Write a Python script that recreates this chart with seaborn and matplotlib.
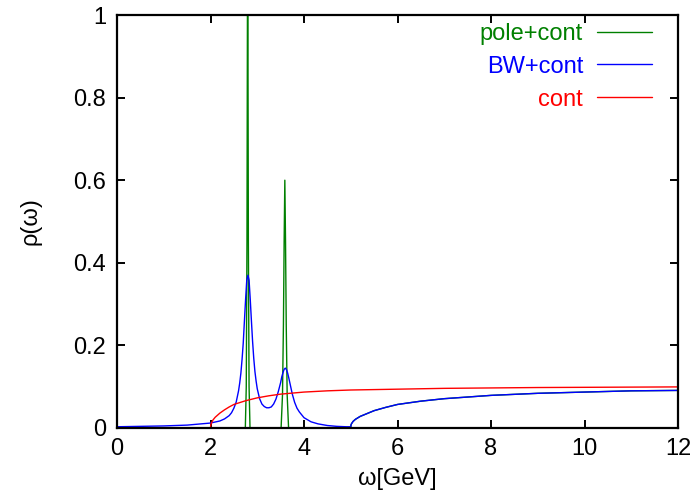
import matplotlib
matplotlib.use("Agg")
import matplotlib.pyplot as plt
import seaborn as sns
import pandas as pd

# ---- data ----
pole_x = [0.0, 2.745, 2.765, 2.78, 2.79, 2.795, 2.80, 2.81, 2.825, 2.845,
          3.51, 3.54, 3.56, 3.575, 3.59, 3.605, 3.62, 3.64, 3.67,
          5.0, 5.005, 5.01, 5.02, 5.05, 5.1, 5.2, 5.35, 5.5, 5.75, 6.0,
          6.5, 7.0, 7.5, 8.0, 9.0, 10.0, 11.0, 12.0]
pole_y = [0.0, 0.0, 0.10, 0.45, 1.0, 1.6, 1.0, 0.45, 0.10, 0.0,
          0.0, 0.08, 0.25, 0.45, 0.60, 0.45, 0.25, 0.08, 0.0,
          0.0, 0.007, 0.009, 0.011, 0.016, 0.021, 0.028, 0.035, 0.042,
          0.050, 0.057, 0.065, 0.071, 0.075, 0.079, 0.084, 0.087, 0.090,
          0.091]

bw_x = [0.0, 0.5, 1.0, 1.5, 2.0, 2.2, 2.3, 2.4, 2.45, 2.5, 2.55, 2.6,
        2.625, 2.65, 2.675, 2.7, 2.725, 2.75, 2.775, 2.8, 2.825, 2.85,
        2.875, 2.9, 2.925, 2.95, 2.975, 3.0, 3.05, 3.1, 3.15, 3.2, 3.25,
        3.3, 3.35, 3.4, 3.45, 3.5, 3.525, 3.55, 3.575, 3.6, 3.625, 3.65,
        3.675, 3.7, 3.75, 3.8, 3.85, 3.9, 4.0, 4.15, 4.3, 4.5, 4.7, 4.9,
        5.0, 5.005, 5.01, 5.02, 5.05, 5.1, 5.2, 5.35, 5.5, 5.75, 6.0, 6.5,
        7.0, 7.5, 8.0, 9.0, 10.0, 11.0, 12.0]
bw_y = [0.003, 0.004, 0.005, 0.007, 0.012, 0.017, 0.022, 0.030, 0.037,
        0.048, 0.063, 0.090, 0.109, 0.133, 0.166, 0.205, 0.258, 0.310,
        0.357, 0.370, 0.358, 0.312, 0.260, 0.210, 0.169, 0.137, 0.114,
        0.095, 0.071, 0.058, 0.052, 0.049, 0.049, 0.051, 0.058, 0.070,
        0.088, 0.110, 0.124, 0.134, 0.142, 0.145, 0.1415, 0.133, 0.121,
        0.108, 0.082, 0.062, 0.048, 0.039, 0.025, 0.015, 0.010, 0.006,
        0.004, 0.003, 0.003, 0.007, 0.009, 0.011, 0.016, 0.021, 0.028,
        0.035, 0.042, 0.050, 0.057, 0.065, 0.071, 0.075, 0.079, 0.084,
        0.087, 0.090, 0.091]

cont_x = [0.0, 1.0, 2.0, 2.005, 2.01, 2.02, 2.05, 2.1, 2.2, 2.3, 2.4, 2.5,
          2.75, 3.0, 3.25, 3.5, 4.0, 4.5, 5.0, 6.0, 7.0, 8.0, 9.0, 10.0,
          11.0, 12.0]
cont_y = [0.0, 0.0, 0.0, 0.007, 0.009, 0.012, 0.019, 0.026, 0.036, 0.044,
          0.051, 0.057, 0.066, 0.073, 0.078, 0.082, 0.087, 0.090, 0.092,
          0.094, 0.096, 0.097, 0.098, 0.0985, 0.099, 0.0995]

series_names = ["pole+cont", "BW+cont", "cont"]
series_colors = ["#008000", "#0000ff", "#ff0000"]
x_ticks = [0, 2, 4, 6, 8, 10, 12]
y_ticks = [0, 0.2, 0.4, 0.6, 0.8, 1]
y_ticklabels = ["0", "0.2", "0.4", "0.6", "0.8", "1"]

df = pd.concat([
    pd.DataFrame({"w": pole_x, "rho": pole_y, "series": series_names[0]}),
    pd.DataFrame({"w": bw_x, "rho": bw_y, "series": series_names[1]}),
    pd.DataFrame({"w": cont_x, "rho": cont_y, "series": series_names[2]}),
], ignore_index=True)

sns.set_theme(style="white")
plt.rcParams["font.family"] = ["Liberation Sans", "DejaVu Sans"]

fig = plt.figure(figsize=(7.0, 5.01), dpi=100)
ax = fig.add_axes([117 / 700, 1 - 428 / 501, (678 - 117) / 700, (428 - 15) / 501])

sns.lineplot(data=df, x="w", y="rho", hue="series", hue_order=series_names,
             palette=dict(zip(series_names, series_colors)), sort=False,
             estimator=None, linewidth=1.0, ax=ax, legend=False)

ax.set_xlim(0, 12)
ax.set_ylim(0, 1)
ax.set_xticks(x_ticks)
ax.set_xticklabels([str(t) for t in x_ticks])
ax.set_yticks(y_ticks)
ax.set_yticklabels(y_ticklabels)

for s in ax.spines.values():
    s.set_visible(True)
    s.set_color("black")
    s.set_linewidth(1.6)

ax.tick_params(axis="both", which="major", direction="in", length=6,
               width=1.4, color="black", labelsize=17, labelcolor="black",
               top=True, right=True, bottom=True, left=True)
ax.tick_params(axis="y", pad=8)
ax.tick_params(axis="x", pad=7)

ax.set_xlabel("ω[GeV]", fontsize=17, color="black", labelpad=6)
ax.set_ylabel("ρ(ω)", fontsize=17, color="black", labelpad=23)

handles = [plt.Line2D([], [], color=c, linewidth=1.0) for c in series_colors]
leg = ax.legend(handles, series_names, loc="upper right",
                bbox_to_anchor=(0.953, 0.981), frameon=False, fontsize=17,
                markerfirst=False, handlelength=2.3, handletextpad=0.6,
                labelspacing=0.46, borderpad=0, borderaxespad=0,
                labelcolor="linecolor")

fig.savefig("out.png", dpi=100)
